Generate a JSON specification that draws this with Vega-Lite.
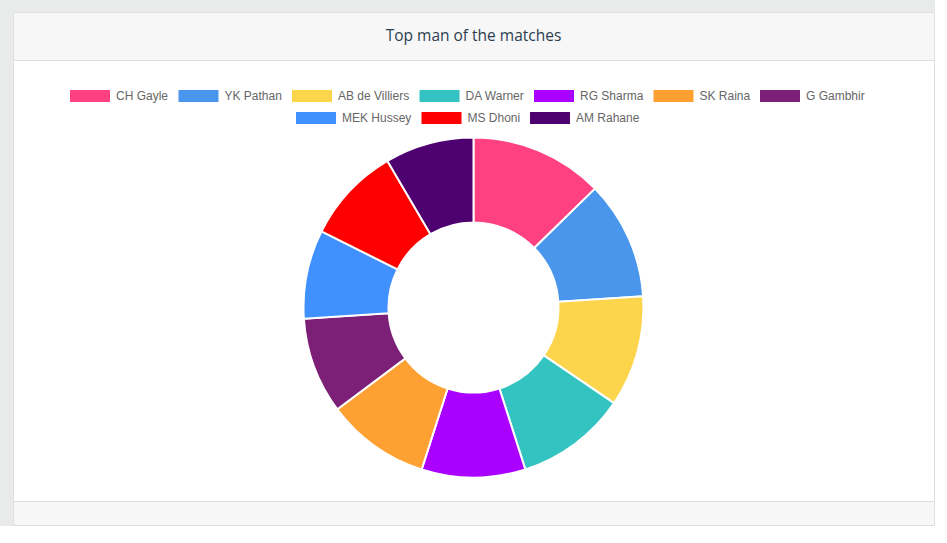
{
  "$schema": "https://vega.github.io/schema/vega-lite/v6.json",
  "background": "#e9ebea",
  "padding": {"left": 12, "top": 11, "right": 0, "bottom": 0},
  "spacing": 0,
  "bounds": "flush",
  "config": {
    "concat": {"spacing": 0},
    "legend": {
      "labelFont": "Liberation Sans",
      "labelFontSize": 12,
      "labelColor": "#666666",
      "labelOffset": 6,
      "columnPadding": 9.5,
      "padding": 0
    }
  },
  "datasets": {
    "players": [
      {"rank": 1, "player": "CH Gayle", "awards": 18},
      {"rank": 2, "player": "YK Pathan", "awards": 16},
      {"rank": 3, "player": "AB de Villiers", "awards": 15},
      {"rank": 4, "player": "DA Warner", "awards": 15},
      {"rank": 5, "player": "RG Sharma", "awards": 14},
      {"rank": 6, "player": "SK Raina", "awards": 14},
      {"rank": 7, "player": "G Gambhir", "awards": 13},
      {"rank": 8, "player": "MEK Hussey", "awards": 12},
      {"rank": 9, "player": "MS Dhoni", "awards": 13},
      {"rank": 10, "player": "AM Rahane", "awards": 12}
    ]
  },
  "vconcat": [
    {
      "width": 921,
      "height": 48,
      "view": {"fill": "#f7f7f7", "stroke": "#dedede"},
      "data": {"values": [{"title": "Top man of the matches"}]},
      "mark": {"type": "text", "font": "Open Sans", "fontSize": 15.5, "color": "#2c3e50"},
      "encoding": {"text": {"field": "title"}}
    },
    {
      "width": 921,
      "height": 441,
      "view": {"fill": "#ffffff", "stroke": "#dedede"},
      "data": {"name": "players"},
      "layer": [
        {
          "mark": {"type": "arc", "innerRadius": 85, "outerRadius": 170, "stroke": "#ffffff", "strokeWidth": 2, "yOffset": 27},
          "encoding": {
            "theta": {"field": "awards", "type": "quantitative", "stack": true},
            "order": {"field": "rank", "type": "quantitative"},
            "color": {
              "field": "player",
              "type": "nominal",
              "scale": {
                "domain": ["CH Gayle", "YK Pathan", "AB de Villiers", "DA Warner", "RG Sharma", "SK Raina", "G Gambhir", "MEK Hussey", "MS Dhoni", "AM Rahane"],
                "range": ["#ff4081", "#4a96ec", "#fdd54d", "#33c4c2", "#aa00ff", "#ffa033", "#7b1f77", "#4190ff", "#ff0000", "#4e0070"]
              },
              "legend": {
                "title": null,
                "orient": "none",
                "direction": "horizontal",
                "legendX": 57,
                "legendY": 64,
                "values": ["CH Gayle", "YK Pathan", "AB de Villiers", "DA Warner", "RG Sharma", "SK Raina", "G Gambhir"],
                "symbolType": "M-1,-0.3L1,-0.3L1,0.3L-1,0.3Z",
                "symbolSize": 1600,
                "symbolStrokeWidth": 0,
                "symbolOpacity": 1
              }
            }
          }
        },
        {
          "mark": {"type": "arc", "innerRadius": 85, "outerRadius": 170, "opacity": 0, "yOffset": 27},
          "encoding": {
            "theta": {"field": "awards", "type": "quantitative", "stack": true},
            "order": {"field": "rank", "type": "quantitative"},
            "fill": {
              "field": "player",
              "type": "nominal",
              "scale": {
                "domain": ["MEK Hussey", "MS Dhoni", "AM Rahane"],
                "range": ["#4190ff", "#ff0000", "#4e0070"]
              },
              "legend": {
                "title": null,
                "orient": "none",
                "direction": "horizontal",
                "legendX": 283,
                "legendY": 86,
                "symbolType": "M-1,-0.3L1,-0.3L1,0.3L-1,0.3Z",
                "symbolSize": 1600,
                "symbolStrokeWidth": 0,
                "symbolOpacity": 1
              }
            }
          }
        }
      ]
    },
    {
      "width": 921,
      "height": 24,
      "view": {"fill": "#f7f7f7", "stroke": "#dedede"},
      "data": {"values": [{"note": ""}]},
      "mark": {"type": "text"},
      "encoding": {"text": {"field": "note"}}
    }
  ]
}
